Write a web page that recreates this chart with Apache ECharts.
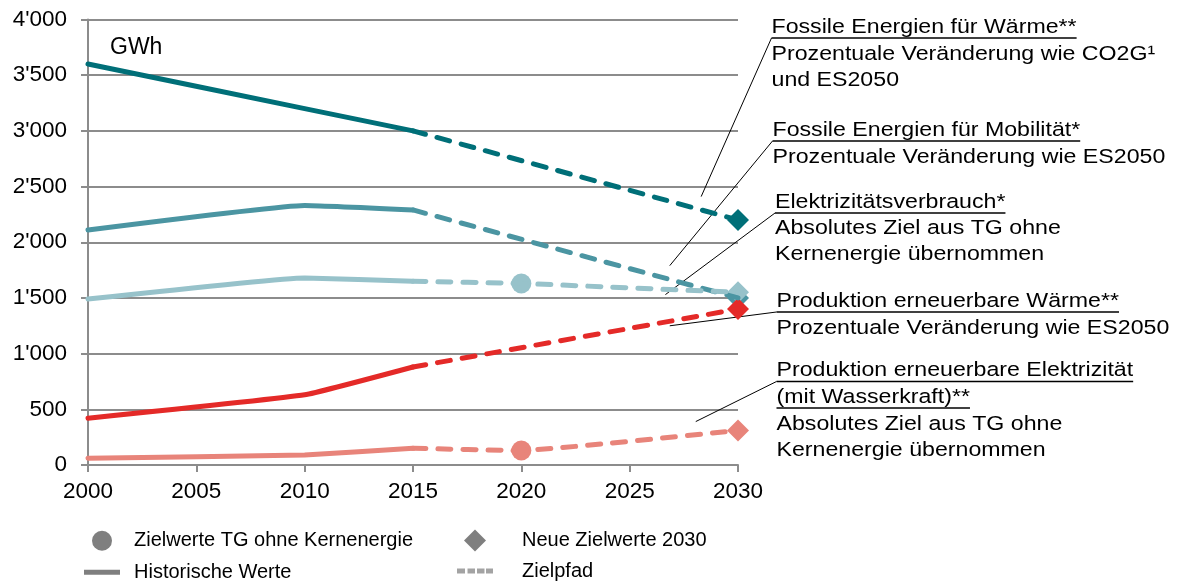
<!DOCTYPE html>
<html>
<head>
<meta charset="utf-8">
<script src="https://cdn.jsdelivr.net/npm/echarts@6/dist/echarts.min.js"></script>
<style>
html,body{margin:0;padding:0;background:#fff;}
#chart{width:1180px;height:582px;}
</style>
</head>
<body>
<div id="chart"></div>
<script>
// ---------------- data ----------------
const histYears = [2000, 2010, 2015];
const xTicks = [2000, 2005, 2010, 2015, 2020, 2025, 2030];
const yTicks = [0, 500, 1000, 1500, 2000, 2500, 3000, 3500, 4000];
const seriesNames = [
  'Fossile Energien für Wärme',
  'Fossile Energien für Mobilität',
  'Elektrizitätsverbrauch',
  'Produktion erneuerbare Wärme',
  'Produktion erneuerbare Elektrizität'
];
const fossilHeatHist = [3600, 3200, 3000];
const fossilMobHist  = [2110, 2330, 2290];
const elecUseHist    = [1490, 1680, 1650];
const renewHeatHist  = [420, 630, 880];
const renewElecHist  = [60, 90, 150];
const targetTG2020   = [null, null, 1630, null, 130];   // Zielwerte TG ohne Kernenergie (2020)
const target2030     = [2200, 1500, 1550, 1400, 310];   // Neue Zielwerte 2030
const legendLabels = ['Zielwerte TG ohne Kernenergie', 'Historische Werte', 'Neue Zielwerte 2030', 'Zielpfad'];
const calloutTitles = [
  ['Fossile Energien für Wärme**'],
  ['Fossile Energien für Mobilität*'],
  ['Elektrizitätsverbrauch*'],
  ['Produktion erneuerbare Wärme**'],
  ['Produktion erneuerbare Elektrizität', '(mit Wasserkraft)**']
];
const calloutNotes = [
  ['Prozentuale Veränderung wie CO2G¹', 'und ES2050'],
  ['Prozentuale Veränderung wie ES2050'],
  ['Absolutes Ziel aus TG ohne', 'Kernenergie übernommen'],
  ['Prozentuale Veränderung wie ES2050'],
  ['Absolutes Ziel aus TG ohne', 'Kernenergie übernommen']
];
const unitLabel = 'GWh';

// ---------------- chart ----------------
const FONT = '"Liberation Sans", Arial, Helvetica, sans-serif';
const colors = ['#006f78', '#4b95a2', '#97c2ca', '#e42a28', '#e8847a'];
const histArrays = [fossilHeatHist, fossilMobHist, elecUseHist, renewHeatHist, renewElecHist];
const GRID_GRAY = '#8c8c8c';
const SMOOTH = 0.1;

const series = [];
histArrays.forEach((hist, i) => {
  const c = colors[i];
  series.push({
    name: seriesNames[i], type: 'line', smooth: SMOOTH, symbol: 'none',
    data: histYears.map((yr, j) => [yr, hist[j]]),
    lineStyle: {color: c, width: 5, cap: 'round', join: 'round'},
    itemStyle: {color: c}
  });
  const path = [[histYears[histYears.length - 1], hist[hist.length - 1]]];
  if (targetTG2020[i] != null) path.push([2020, targetTG2020[i]]);
  path.push([2030, target2030[i]]);
  series.push({
    name: seriesNames[i] + ' Zielpfad', type: 'line', smooth: SMOOTH, symbol: 'none',
    data: path,
    lineStyle: {color: c, width: 5, type: [13, 12], cap: 'round', join: 'round'},
    itemStyle: {color: c}
  });
  if (targetTG2020[i] != null) {
    series.push({
      name: seriesNames[i] + ' TG', type: 'scatter', symbol: 'circle', symbolSize: 20,
      data: [[2020, targetTG2020[i]]], itemStyle: {color: c, opacity: 1}
    });
  }
  series.push({
    name: seriesNames[i] + ' 2030', type: 'scatter', symbol: 'diamond', symbolSize: 22,
    data: [[2030, target2030[i]]], itemStyle: {color: c, opacity: 1}
  });
});
// legend-only series
legendLabels.forEach((lbl, k) => {
  series.push({name: lbl, type: 'scatter', data: [], itemStyle: {color: k === 3 ? '#a3a3a3' : '#7f7f7f', opacity: 1}});
});

const thousands = v => String(v).replace(/\B(?=(\d{3})+(?!\d))/g, "'");

const chart = echarts.init(document.getElementById('chart'), null, {renderer: 'canvas'});
chart.setOption({
  animation: false,
  backgroundColor: '#fff',
  grid: {left: 88, right: 442, top: 19.5, bottom: 117, containLabel: false},
  xAxis: {
    type: 'value', min: xTicks[0], max: xTicks[xTicks.length - 1], interval: 5,
    axisLine: {show: true, lineStyle: {color: GRID_GRAY, width: 2}},
    axisTick: {show: true, length: 7, lineStyle: {color: GRID_GRAY, width: 2}},
    splitLine: {show: false},
    axisLabel: {color: '#000', fontSize: 22.5, fontFamily: FONT, margin: 15.5, formatter: v => String(v)}
  },
  yAxis: {
    type: 'value', min: yTicks[0], max: yTicks[yTicks.length - 1], interval: 500,
    axisLine: {show: true, lineStyle: {color: GRID_GRAY, width: 2}},
    axisTick: {show: true, length: 7, lineStyle: {color: GRID_GRAY, width: 2}},
    splitLine: {show: true, lineStyle: {color: GRID_GRAY, width: 2}},
    axisLabel: {color: '#000', fontSize: 22.5, fontFamily: FONT, margin: 21, formatter: thousands}
  },
  legend: [
    {
      orient: 'vertical', left: 84, top: 530.7, height: 120, padding: 0,
      itemWidth: 36, itemHeight: 20, itemGap: 11.5, selectedMode: false,
      textStyle: {fontSize: 20, fontFamily: FONT, color: '#000', padding: [0, 0, 0, 9]},
      itemStyle: {borderWidth: 0},
      data: [
        {name: legendLabels[0], icon: 'circle'},
        {name: legendLabels[1], icon: 'path://M0,0h36v5h-36z'}
      ]
    },
    {
      orient: 'vertical', left: 457, top: 529.5, height: 120, padding: 0,
      itemWidth: 36, itemHeight: 22, itemGap: 9.5, selectedMode: false,
      textStyle: {fontSize: 20, fontFamily: FONT, color: '#000', padding: [0, 0, 0, 24]},
      itemStyle: {borderWidth: 0},
      data: [
        {name: legendLabels[2], icon: 'path://M0,-1L1,0L0,1L-1,0Z'},
        {name: legendLabels[3], icon: 'path://M0,0h8v5h-8zM10.5,0h7.5v5h-7.5zM20,0h7.5v5h-7.5zM29,0h7v5h-7z'}
      ]
    }
  ],
  series: series
});

// ---------------- callouts ----------------
function drawCallouts() {
  const ctx = document.createElement('canvas').getContext('2d');
  const fs = 20.5, sx = 1.13;
  ctx.font = fs + 'px ' + FONT;
  // where each leader line points, in data coordinates (year, GWh)
  const anchors = [[2028.3, 2410], [2026.85, 1790], [2026.65, 1530], [2026.85, 1250], [2028.05, 390]];
  // text line centres and underline offsets (pixels)
  const blockX = [771.5, 772.5, 775, 776.5, 776.5];
  const titleY = [[27], [130], [202], [301], [370.5, 397]];
  const noteY = [[54, 80], [157], [228.5, 254.5], [328], [424, 450]];
  const UL = 11;
  const g = [];
  g.push({type: 'text', x: 110, y: 48, style: {text: unitLabel, fontSize: 23, fontFamily: FONT, fill: '#000', verticalAlign: 'middle'}});
  const txt = (t, x, y) => ({type: 'text', x: x, y: y, scaleX: sx, originX: 0,
    style: {text: t, fontSize: fs, fontFamily: FONT, fill: '#000', verticalAlign: 'middle'}});
  calloutTitles.forEach((titles, i) => {
    const x = blockX[i];
    titles.forEach((t, k) => {
      const y = titleY[i][k];
      g.push(txt(t, x, y));
      const w = ctx.measureText(t).width * sx;
      g.push({type: 'line', shape: {x1: x, y1: y + UL, x2: x + w, y2: y + UL}, style: {stroke: '#000', lineWidth: 1.5}});
    });
    calloutNotes[i].forEach((t, k) => g.push(txt(t, x, noteY[i][k])));
    const p = chart.convertToPixel({xAxisIndex: 0, yAxisIndex: 0}, anchors[i]);
    g.push({type: 'line', shape: {x1: x, y1: titleY[i][0] + UL, x2: p[0], y2: p[1]}, style: {stroke: '#000', lineWidth: 1}});
  });
  chart.setOption({graphic: g});
}
drawCallouts();
</script>
</body>
</html>
